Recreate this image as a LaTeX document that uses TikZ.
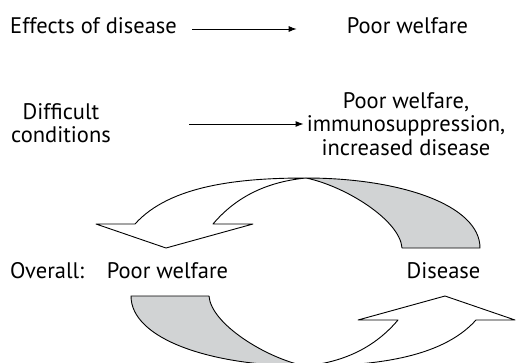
\documentclass[tikz,border=0pt]{standalone}
\usepackage{fontspec}
\setmainfont{PT Sans}
\usetikzlibrary{arrows.meta}
\definecolor{cyclegray}{RGB}{209,211,212}
\tikzset{
  lbl/.style={inner sep=0pt, font=\fontsize{22.5}{23.5}\selectfont},
  conn/.style={line width=0.9pt, -{Latex[length=8pt,width=6pt]}},
  outline/.style={draw=black, line width=0.9pt, line join=round},
  cyclearrow/.pic={
    \path[outline, fill=white] (166,248) -- (96,224) -- (135,224)
      .. controls (170,185) and (240,178) .. (306,178)
      .. controls (265,182) and (235,198) .. (213,224)
      -- (253,224) -- cycle;
    \path[outline, fill=cyclegray] (306,178)
      .. controls (400,178) and (480,205) .. (480,248)
      -- (402,248)
      .. controls (400,220) and (345,186) .. (306,178) -- cycle;
  }
}
\begin{document}
\begin{tikzpicture}[x=1pt,y=-1pt]
\useasboundingbox (0,0) rectangle (516,362);
\clip (0,0) rectangle (516,362);
% row 1
\node[lbl, anchor=base west] (eff) at (10,33) {Effects of disease};
\node[lbl, anchor=base] (pw1) at (407.5,33) {Poor welfare};
\draw[conn] ([shift={(15pt,4pt)}]eff.base east) -- ([shift={(-50pt,4pt)}]pw1.base west);
% row 2
\node[lbl, align=center] (dc) at (61,123) {Difficult\\conditions};
\node[lbl, align=center] (rb) at (406,124) {Poor welfare,\\immunosuppression,\\increased disease};
\draw[conn] ([shift={(78pt,-1pt)}]dc.east) -- ([shift={(-3pt,0pt)}]rb.west);
% cycle
\pic at (0,0) {cyclearrow};
\pic[rotate=180] at (611,544) {cyclearrow};
\node[lbl, anchor=base west] (ov) at (10,278) {Overall:};
\node[lbl, anchor=base] (pw2) at (167.5,278) {Poor welfare};
\node[lbl, anchor=base] (dis) at (443.5,278) {Disease};
\end{tikzpicture}
\end{document}
